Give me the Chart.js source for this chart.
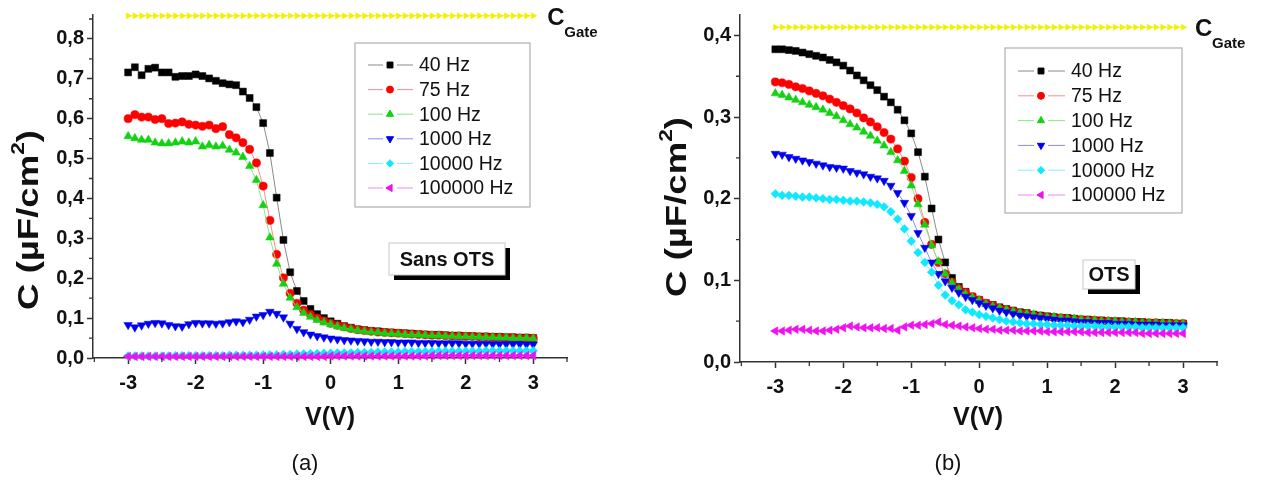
<!DOCTYPE html>
<html>
<head>
<meta charset="utf-8">
<script src="https://cdn.jsdelivr.net/npm/chart.js@4.4.0/dist/chart.umd.min.js"></script>
<style>
  body { margin: 0; background: #fff; width: 1267px; height: 485px; overflow: hidden; }
  canvas { position: absolute; top: 0; }
  #chartA { left: 0; }
  #chartB { left: 640px; }
</style>
</head>
<body>
<canvas id="chartA" width="620" height="485"></canvas>
<canvas id="chartB" width="627" height="485"></canvas>
<script>
// gate voltage sweep (V)
const volts = [-3.0,-2.9,-2.8,-2.7,-2.6,-2.5,-2.4,-2.3,-2.2,-2.1,
  -2.0,-1.9,-1.8,-1.7,-1.6,-1.5,-1.4,-1.3,-1.2,-1.1,
  -1.0,-0.9,-0.8,-0.7,-0.6,-0.5,-0.4,-0.3,-0.2,-0.1,
  0.0,0.1,0.2,0.3,0.4,0.5,0.6,0.7,0.8,0.9,
  1.0,1.1,1.2,1.3,1.4,1.5,1.6,1.7,1.8,1.9,
  2.0,2.1,2.2,2.3,2.4,2.5,2.6,2.7,2.8,2.9,3.0];

const freqLabels = ['40 Hz', '75 Hz', '100 Hz', '1000 Hz', '10000 Hz', '100000 Hz'];

// (a) Sans OTS, C in uF/cm2
const a40 = [0.716,0.729,0.709,0.725,0.728,0.716,0.716,0.705,0.707,0.707,
  0.711,0.707,0.701,0.695,0.689,0.686,0.684,0.668,0.652,0.629,
  0.589,0.514,0.402,0.296,0.215,0.168,0.143,0.123,0.110,0.100,
  0.092,0.086,0.080,0.076,0.072,0.070,0.068,0.067,0.065,0.064,
  0.063,0.062,0.061,0.060,0.059,0.058,0.058,0.057,0.056,0.056,
  0.055,0.055,0.054,0.054,0.053,0.053,0.052,0.052,0.051,0.051,0.050];
const a75 = [0.600,0.610,0.604,0.604,0.598,0.600,0.588,0.589,0.592,0.586,
  0.584,0.581,0.584,0.575,0.580,0.560,0.552,0.540,0.523,0.489,
  0.431,0.345,0.260,0.201,0.162,0.137,0.120,0.109,0.100,0.093,
  0.087,0.082,0.078,0.074,0.071,0.069,0.067,0.065,0.064,0.063,
  0.062,0.061,0.060,0.059,0.058,0.057,0.057,0.056,0.055,0.055,
  0.054,0.054,0.053,0.053,0.052,0.052,0.051,0.051,0.050,0.050,0.049];
const a100 = [0.556,0.551,0.547,0.547,0.540,0.538,0.538,0.540,0.543,0.540,
  0.543,0.530,0.534,0.530,0.532,0.522,0.515,0.504,0.481,0.446,
  0.383,0.302,0.236,0.186,0.151,0.127,0.113,0.103,0.095,0.089,
  0.084,0.079,0.075,0.072,0.069,0.067,0.065,0.064,0.062,0.061,
  0.060,0.059,0.058,0.058,0.057,0.056,0.056,0.055,0.055,0.054,
  0.054,0.053,0.053,0.052,0.052,0.051,0.051,0.050,0.050,0.050,0.049];
const a1000 = [0.083,0.077,0.082,0.086,0.088,0.087,0.083,0.080,0.079,0.085,
  0.088,0.087,0.087,0.086,0.087,0.090,0.092,0.090,0.096,0.104,
  0.108,0.116,0.111,0.102,0.086,0.073,0.065,0.059,0.055,0.052,
  0.049,0.047,0.045,0.044,0.043,0.042,0.041,0.041,0.040,0.040,
  0.039,0.039,0.039,0.038,0.038,0.038,0.037,0.037,0.037,0.037,
  0.036,0.036,0.036,0.036,0.035,0.035,0.035,0.035,0.035,0.034,0.034];
const a10000 = [0.005,0.005,0.005,0.005,0.005,0.005,0.005,0.006,0.006,0.006,
  0.006,0.006,0.006,0.006,0.006,0.007,0.007,0.007,0.007,0.007,
  0.008,0.008,0.008,0.009,0.009,0.010,0.010,0.011,0.011,0.012,
  0.012,0.013,0.013,0.013,0.014,0.014,0.014,0.015,0.015,0.015,
  0.015,0.016,0.016,0.016,0.016,0.016,0.017,0.017,0.017,0.017,
  0.017,0.017,0.017,0.018,0.018,0.018,0.018,0.018,0.018,0.018,0.018];
const a100000 = [0.004,0.004,0.004,0.004,0.004,0.004,0.004,0.004,0.004,0.004,
  0.004,0.004,0.004,0.004,0.004,0.004,0.004,0.004,0.004,0.004,
  0.004,0.004,0.004,0.004,0.004,0.004,0.004,0.004,0.004,0.004,
  0.005,0.005,0.005,0.005,0.005,0.005,0.005,0.005,0.005,0.005,
  0.005,0.005,0.005,0.005,0.005,0.006,0.006,0.006,0.006,0.006,
  0.006,0.006,0.006,0.006,0.006,0.006,0.006,0.006,0.006,0.006,0.006];
const aGate = [0.858,0.858,0.858,0.858,0.858,0.858,0.858,0.858,0.858,0.858,
  0.858,0.858,0.858,0.858,0.858,0.858,0.858,0.858,0.858,0.858,
  0.858,0.858,0.858,0.858,0.858,0.858,0.858,0.858,0.858,0.858,
  0.858,0.858,0.858,0.858,0.858,0.858,0.858,0.858,0.858,0.858,
  0.858,0.858,0.858,0.858,0.858,0.858,0.858,0.858,0.858,0.858,
  0.858,0.858,0.858,0.858,0.858,0.858,0.858,0.858,0.858,0.858,0.858];

// (b) OTS
const b40 = [0.383,0.383,0.382,0.381,0.379,0.377,0.375,0.373,0.370,0.367,
  0.363,0.357,0.351,0.345,0.339,0.333,0.325,0.318,0.309,0.296,
  0.280,0.257,0.227,0.188,0.150,0.122,0.103,0.092,0.086,0.080,
  0.076,0.072,0.070,0.067,0.065,0.063,0.061,0.060,0.058,0.057,
  0.056,0.055,0.054,0.054,0.053,0.052,0.052,0.051,0.051,0.050,
  0.050,0.050,0.049,0.049,0.049,0.048,0.048,0.048,0.048,0.047,0.047];
const b75 = [0.343,0.342,0.340,0.337,0.335,0.332,0.329,0.326,0.322,0.318,
  0.314,0.310,0.305,0.299,0.294,0.288,0.281,0.273,0.261,0.246,
  0.226,0.200,0.171,0.144,0.122,0.108,0.098,0.090,0.085,0.080,
  0.076,0.072,0.069,0.066,0.064,0.062,0.060,0.059,0.057,0.056,
  0.055,0.054,0.054,0.053,0.052,0.052,0.051,0.051,0.050,0.050,
  0.049,0.049,0.049,0.048,0.048,0.048,0.048,0.047,0.047,0.047,0.047];
const b100 = [0.329,0.327,0.324,0.321,0.318,0.315,0.312,0.309,0.305,0.301,
  0.296,0.291,0.287,0.282,0.277,0.271,0.265,0.257,0.247,0.234,
  0.216,0.193,0.168,0.143,0.123,0.108,0.097,0.089,0.083,0.079,
  0.075,0.071,0.068,0.066,0.064,0.062,0.060,0.059,0.058,0.056,
  0.055,0.055,0.054,0.053,0.053,0.052,0.051,0.051,0.050,0.050,
  0.050,0.049,0.049,0.049,0.048,0.048,0.048,0.048,0.047,0.047,0.047];
const b1000 = [0.255,0.254,0.251,0.249,0.247,0.245,0.243,0.241,0.239,0.238,
  0.237,0.234,0.232,0.230,0.227,0.225,0.222,0.216,0.207,0.195,
  0.179,0.158,0.140,0.122,0.108,0.099,0.091,0.085,0.080,0.076,
  0.072,0.069,0.066,0.063,0.061,0.059,0.057,0.056,0.055,0.054,
  0.053,0.052,0.051,0.051,0.050,0.049,0.049,0.048,0.048,0.048,
  0.047,0.047,0.047,0.046,0.046,0.046,0.046,0.045,0.045,0.045,0.045];
const b10000 = [0.206,0.204,0.204,0.203,0.202,0.202,0.201,0.200,0.199,0.199,
  0.198,0.197,0.197,0.196,0.195,0.193,0.190,0.184,0.175,0.163,
  0.148,0.134,0.122,0.110,0.094,0.082,0.075,0.070,0.064,0.061,
  0.058,0.056,0.054,0.052,0.050,0.049,0.048,0.047,0.047,0.046,
  0.046,0.045,0.045,0.045,0.044,0.044,0.044,0.044,0.043,0.043,
  0.043,0.043,0.043,0.043,0.042,0.042,0.042,0.042,0.042,0.042,0.042];
const b100000 = [0.038,0.038,0.039,0.040,0.040,0.039,0.038,0.038,0.039,0.040,
  0.042,0.044,0.043,0.042,0.042,0.042,0.041,0.041,0.039,0.043,
  0.045,0.045,0.046,0.047,0.049,0.046,0.045,0.044,0.043,0.042,
  0.041,0.040,0.040,0.039,0.039,0.039,0.038,0.038,0.038,0.038,
  0.037,0.037,0.037,0.037,0.037,0.037,0.036,0.036,0.036,0.036,
  0.036,0.036,0.036,0.036,0.035,0.035,0.035,0.035,0.035,0.035,0.035];
const bGate = [0.410,0.410,0.410,0.410,0.410,0.410,0.410,0.410,0.410,0.410,
  0.410,0.410,0.410,0.410,0.410,0.410,0.410,0.410,0.410,0.410,
  0.410,0.410,0.410,0.410,0.410,0.410,0.410,0.410,0.410,0.410,
  0.410,0.410,0.410,0.410,0.410,0.410,0.410,0.410,0.410,0.410,
  0.410,0.410,0.410,0.410,0.410,0.410,0.410,0.410,0.410,0.410,
  0.410,0.410,0.410,0.410,0.410,0.410,0.410,0.410,0.410,0.410,0.410];

// minor tick values
const xMinor = [-3.5, -2.5, -1.5, -0.5, 0.5, 1.5, 2.5, 3.5];
const yMinorA = [0.05, 0.15, 0.25, 0.35, 0.45, 0.55, 0.65, 0.75, 0.85];
const yMinorB = [0.05, 0.15, 0.25, 0.35];

// marker look per frequency
const markColors = ['#000000', '#ff0000', '#12d212', '#0000f0', '#10e8ff', '#f010f0'];
const lineColors = ['#8a8a8a', '#ff8a8a', '#8ae68a', '#8a8af0', '#8af0ff', '#f08af0'];
const markStyles = ['rect', 'circle', 'triangle', 'triangle', 'rectRot', 'triangle'];
const markRot = [0, 0, 0, 180, 0, -90];
const markRadius = [4.9, 4.1, 4.9, 4.9, 4.4, 4.9];

const FONT = "'Liberation Sans', Arial, sans-serif";
Chart.defaults.font.family = FONT;

function pts(ys) {
  return volts.map((v, i) => ({ x: v, y: ys[i] }));
}

function buildSets(series, gate) {
  const sets = series.map((ys, i) => ({
    label: freqLabels[i],
    data: pts(ys),
    borderColor: lineColors[i],
    borderWidth: 1,
    backgroundColor: markColors[i],
    pointBackgroundColor: markColors[i],
    pointBorderColor: markColors[i],
    pointBorderWidth: 0.5,
    pointStyle: markStyles[i],
    rotation: markRot[i],
    pointRadius: markRadius[i],
    order: 10 - i,
    clip: false
  }));
  sets.push({
    label: 'CGate',
    data: pts(gate),
    borderColor: '#f4f400',
    borderWidth: 1,
    pointBackgroundColor: '#f0f000',
    pointBorderColor: '#f0f000',
    pointBorderWidth: 0.5,
    pointStyle: 'triangle',
    rotation: 90,
    pointRadius: 3.6,
    order: 20,
    clip: false
  });
  return sets;
}

function drawText(ctx, txt, x, y, font, align) {
  ctx.font = font;
  ctx.textAlign = align || 'left';
  ctx.fillText(txt, x, y);
}

const decor = {
  id: 'decor',
  afterDraw(chart, args, o) {
    const ctx = chart.ctx;
    const xs = chart.scales.x, ys = chart.scales.y;
    const area = chart.chartArea;
    ctx.save();
    ctx.strokeStyle = '#333';
    ctx.lineWidth = 1.3;
    ctx.beginPath();
    o.yMinor.forEach(v => {
      const p = ys.getPixelForValue(v);
      ctx.moveTo(area.left - 4, p); ctx.lineTo(area.left, p);
    });
    xMinor.forEach(v => {
      const p = xs.getPixelForValue(v);
      ctx.moveTo(p, area.bottom); ctx.lineTo(p, area.bottom + 4);
    });
    ctx.stroke();

    ctx.fillStyle = '#111';
    ctx.textBaseline = 'alphabetic';
    // x title
    drawText(ctx, 'V(V)', o.xTitle[0], o.xTitle[1], 'bold 25px ' + FONT, 'center');
    // panel tag
    drawText(ctx, o.tag, o.tagPos[0], o.tagPos[1], '22px ' + FONT, 'center');

    // y title, rotated, with superscript
    ctx.save();
    ctx.translate(o.yTitle[0], o.yTitle[1]);
    ctx.rotate(-Math.PI / 2);
    ctx.scale(1.26, 1);
    const f1 = 'bold 29px ' + FONT, f2 = 'bold 18px ' + FONT;
    ctx.font = f1;
    const w1 = ctx.measureText('C (µF/cm').width;
    const w3 = ctx.measureText(')').width;
    ctx.font = f2;
    const w2 = ctx.measureText('2').width;
    let sx = -(w1 + w2 + w3) / 2;
    drawText(ctx, 'C (µF/cm', sx, 10, f1);
    drawText(ctx, '2', sx + w1, -4, f2);
    drawText(ctx, ')', sx + w1 + w2, 10, f1);
    ctx.restore();

    // C_Gate label next to the gate line
    const gate = chart.data.datasets[6].data;
    const gx = xs.getPixelForValue(gate[gate.length - 1].x) + o.gateDx;
    const gy = ys.getPixelForValue(gate[gate.length - 1].y);
    drawText(ctx, 'C', gx, gy + 9, 'bold 24px ' + FONT);
    drawText(ctx, 'Gate', gx + 17, gy + 21, 'bold 15px ' + FONT);

    // legend box
    const L = o.legend;
    ctx.strokeStyle = '#b0b0b0';
    ctx.lineWidth = 1.2;
    ctx.strokeRect(L.x, L.y, L.w, L.h);
    for (let i = 0; i < 6; i++) {
      const ds = chart.data.datasets[i];
      const ry = L.row0 + i * L.step;
      ctx.strokeStyle = ds.borderColor;
      ctx.lineWidth = 1;
      ctx.beginPath();
      ctx.moveTo(L.lx0, ry); ctx.lineTo(L.mx - 7, ry);
      ctx.moveTo(L.mx + 7, ry); ctx.lineTo(L.lx1, ry);
      ctx.stroke();
      ctx.fillStyle = ds.pointBackgroundColor;
      ctx.strokeStyle = ds.pointBorderColor;
      Chart.helpers.drawPoint(ctx, {
        pointStyle: ds.pointStyle, rotation: ds.rotation,
        radius: ds.pointRadius * 0.85, borderWidth: 0.5
      }, L.mx, ry);
      ctx.fillStyle = '#111';
      ctx.textBaseline = 'middle';
      drawText(ctx, ds.label, L.tx, ry + 1, '19.5px ' + FONT);
    }

    // annotation box with drop shadow
    const B = o.box;
    ctx.fillStyle = '#000';
    ctx.fillRect(B.x + 5, B.y + 5, B.w, B.h);
    ctx.fillStyle = '#fff';
    ctx.fillRect(B.x, B.y, B.w, B.h);
    ctx.strokeStyle = '#c8c8c8';
    ctx.lineWidth = 1;
    ctx.strokeRect(B.x, B.y, B.w, B.h);
    ctx.fillStyle = '#111';
    ctx.textBaseline = 'middle';
    drawText(ctx, B.text, B.x + B.w / 2, B.y + B.h / 2 + 1, 'bold 20px ' + FONT, 'center');
    ctx.restore();
  }
};

function makeChart(id, series, gate, ymax, dims, deco) {
  new Chart(document.getElementById(id), {
    type: 'line',
    data: { datasets: buildSets(series, gate) },
    plugins: [decor],
    options: {
      responsive: false,
      animation: false,
      devicePixelRatio: 1,
      layout: { padding: { left: 0, top: dims.top, right: dims.right, bottom: 0 } },
      plugins: { legend: { display: false }, tooltip: { enabled: false }, decor: deco },
      scales: {
        x: {
          type: 'linear', min: -3.52, max: 3.5,
          ticks: {
            stepSize: 1, includeBounds: false, padding: 7, color: '#111',
            font: { size: 20, weight: 'bold' },
            callback: v => String(v)
          },
          grid: { drawOnChartArea: false, tickLength: 6, tickWidth: 1.5, tickColor: '#333' },
          border: { color: '#333', width: 1.5 },
          afterFit: s => { s.height = dims.xh; }
        },
        y: {
          type: 'linear', min: 0, max: ymax,
          ticks: {
            stepSize: 0.1, includeBounds: false, padding: 3, color: '#111',
            font: { size: 20, weight: 'bold' },
            callback: v => v.toFixed(1).replace('.', ',')
          },
          grid: { drawOnChartArea: false, tickLength: 6, tickWidth: 1.5, tickColor: '#333' },
          border: { color: '#333', width: 1.5 },
          afterFit: s => { s.width = dims.yw; }
        }
      }
    }
  });
}

makeChart('chartA', [a40, a75, a100, a1000, a10000, a100000], aGate, 0.86,
  { top: 11, right: 53, xh: 127, yw: 93 },
  {
    yMinor: yMinorA, xTitle: [330, 425], yTitle: [28, 220], tag: '(a)', tagPos: [305, 470],
    gateDx: 14,
    legend: { x: 355, y: 43, w: 175, h: 164, row0: 65, step: 24.6, lx0: 368, lx1: 413, mx: 390, tx: 419 },
    box: { x: 389, y: 243, w: 116, h: 32, text: 'Sans OTS' }
  });

makeChart('chartB', [b40, b75, b100, b1000, b10000, b100000], bGate, 0.425,
  { top: 8, right: 50, xh: 123, yw: 100 },
  {
    yMinor: yMinorB, xTitle: [338, 425], yTitle: [36, 207], tag: '(b)', tagPos: [308, 470],
    gateDx: 12,
    legend: { x: 365, y: 48, w: 177, h: 165, row0: 71, step: 24.8, lx0: 378, lx1: 425, mx: 401, tx: 431 },
    box: { x: 443, y: 260, w: 52, h: 29, text: 'OTS' }
  });
</script>
</body>
</html>
